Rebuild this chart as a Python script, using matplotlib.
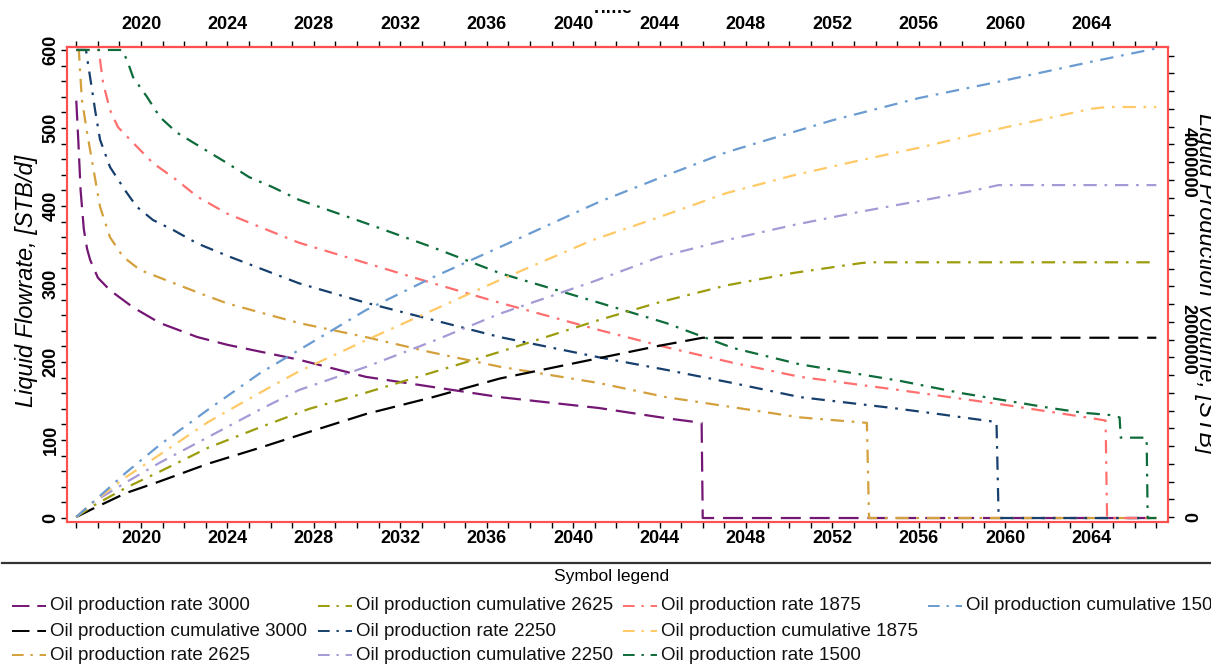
import matplotlib
matplotlib.use("Agg")
import matplotlib.pyplot as plt
from matplotlib.ticker import MultipleLocator, FuncFormatter
from matplotlib.lines import Line2D
from matplotlib.transforms import Bbox

# ---------------- data ----------------
# Oil production rate, STB/d (left axis)
rate_3000_t = [2017.0, 2017.1, 2017.2, 2017.35, 2017.5, 2017.64, 2018.0, 2018.56, 2019.63, 2020.87,
               2022.6, 2024.0, 2027.3, 2030.4, 2033.5, 2036.6, 2041.2, 2044.3, 2045.95, 2046.0, 2067.0]
rate_3000 = [535, 480, 420, 370, 345, 331, 308, 292, 270, 250,
             232, 222, 203, 181, 168, 155, 141, 128, 122, 0, 0]

rate_2625_t = [2017.0, 2017.12, 2017.17, 2017.26, 2017.5, 2017.96, 2018.1, 2018.56, 2019.16, 2019.95,
               2020.87, 2022.73, 2024.0, 2027.3, 2030.4, 2033.5, 2036.6, 2041.2, 2044.3, 2047.4,
               2050.5, 2053.6, 2053.7, 2067.0]
rate_2625 = [600, 600, 575, 536, 494, 421, 399, 360, 335, 318,
             308, 288, 275, 250, 232, 212, 194, 173, 155, 142,
             129, 122, 0, 0]

rate_2250_t = [2017.0, 2017.45, 2017.5, 2017.73, 2017.87, 2018.1, 2018.56, 2019.26, 2019.8, 2020.55,
               2021.5, 2022.6, 2024.0, 2027.3, 2030.4, 2033.5, 2036.6, 2041.2, 2044.3, 2047.4,
               2050.5, 2054.8, 2057.0, 2059.6, 2059.7, 2067.0]
rate_2250 = [600, 600, 590, 549, 523, 485, 450, 420, 399, 382,
             369, 352, 336, 301, 276, 254, 232, 206, 190, 173,
             155, 141, 133, 123, 0, 0]

rate_1875_t = [2017.0, 2018.05, 2018.1, 2018.24, 2018.56, 2018.93, 2019.63, 2020.55, 2021.66, 2022.6,
               2024.0, 2027.3, 2030.4, 2033.5, 2036.6, 2041.2, 2044.3, 2047.4, 2050.5, 2055.1,
               2060.0, 2064.0, 2064.65, 2064.72, 2067.0]
rate_1875 = [600, 600, 587, 558, 523, 501, 481, 455, 433, 412,
             390, 353, 327, 301, 276, 241, 219, 199, 181, 164,
             145, 128, 125, 0, 0]

rate_1500_t = [2017.0, 2019.12, 2019.35, 2019.63, 2020.27, 2020.87, 2021.66, 2022.73, 2023.98, 2025.0,
               2026.1, 2027.3, 2030.4, 2033.5, 2036.6, 2041.2, 2044.3, 2047.4, 2050.5, 2055.1,
               2058.0, 2062.1, 2063.6, 2064.86, 2065.3, 2065.35, 2066.55, 2066.6, 2067.0]
rate_1500 = [600, 600, 587, 565, 540, 514, 494, 476, 455, 437,
             424, 408, 378, 347, 314, 276, 250, 218, 197, 176,
             160, 141, 135, 132, 129, 103, 103, 0, 0]

# Oil production cumulative, million STB (right axis)
cum_3000_t = [2017.0, 2017.74, 2019.3, 2020.85, 2023.1, 2025.5, 2027.8, 2030.4, 2033.5, 2036.6,
              2041.2, 2044.0, 2046.0, 2067.0]
cum_3000 = [0, 0.09, 0.27, 0.40, 0.60, 0.78, 0.96, 1.16, 1.35, 1.56,
            1.79, 1.93, 2.02, 2.02]

cum_2625_t = [2017.0, 2017.74, 2019.3, 2020.85, 2023.1, 2025.5, 2027.8, 2030.4, 2033.5, 2036.6,
              2041.2, 2044.0, 2047.1, 2050.2, 2053.3, 2053.7, 2067.0]
cum_2625 = [0, 0.12, 0.33, 0.51, 0.78, 1.01, 1.22, 1.40, 1.63, 1.86,
            2.22, 2.42, 2.61, 2.75, 2.86, 2.87, 2.87]

cum_2250_t = [2017.0, 2017.74, 2019.3, 2020.85, 2023.1, 2025.5, 2027.3, 2030.4, 2033.5, 2036.6,
              2040.9, 2044.0, 2047.1, 2050.2, 2053.3, 2056.0, 2058.0, 2059.7, 2067.0]
cum_2250 = [0, 0.16, 0.39, 0.61, 0.90, 1.21, 1.43, 1.69, 1.98, 2.29,
            2.65, 2.93, 3.12, 3.29, 3.44, 3.56, 3.65, 3.74, 3.74]

cum_1875_t = [2017.0, 2017.74, 2019.3, 2020.85, 2023.1, 2025.5, 2027.3, 2030.4, 2033.5, 2036.6,
              2040.9, 2044.0, 2047.1, 2050.2, 2053.3, 2056.0, 2060.0, 2064.0, 2064.7, 2067.0]
cum_1875 = [0, 0.16, 0.45, 0.70, 1.07, 1.40, 1.64, 1.99, 2.33, 2.67,
            3.12, 3.38, 3.65, 3.85, 4.02, 4.16, 4.39, 4.60, 4.62, 4.62]

cum_1500_t = [2017.0, 2017.74, 2019.3, 2020.85, 2023.1, 2025.5, 2027.3, 2030.4, 2033.5, 2036.6,
              2041.2, 2044.0, 2047.1, 2052.0, 2056.0, 2060.0, 2064.0, 2066.0, 2067.0]
cum_1500 = [0, 0.16, 0.50, 0.81, 1.21, 1.62, 1.88, 2.33, 2.70, 3.04,
            3.55, 3.82, 4.11, 4.47, 4.72, 4.92, 5.13, 5.23, 5.28]

# ---------------- styling ----------------
DASH = (0, (9, 4))
DASHDOT = (0, (6, 3.5, 1.2, 3.5))
FRAME_RED = '#ff5050'

series = [
    # label, kind, times, values, color, linestyle
    ("Oil production rate 3000", "rate", rate_3000_t, rate_3000, '#741674', DASH),
    ("Oil production cumulative 3000", "cum", cum_3000_t, cum_3000, '#000000', DASH),
    ("Oil production rate 2625", "rate", rate_2625_t, rate_2625, '#d4a03c', DASHDOT),
    ("Oil production cumulative 2625", "cum", cum_2625_t, cum_2625, '#9c9c0c', DASHDOT),
    ("Oil production rate 2250", "rate", rate_2250_t, rate_2250, '#173f6e', DASHDOT),
    ("Oil production cumulative 2250", "cum", cum_2250_t, cum_2250, '#a69ad6', DASHDOT),
    ("Oil production rate 1875", "rate", rate_1875_t, rate_1875, '#ff6f6f', DASHDOT),
    ("Oil production cumulative 1875", "cum", cum_1875_t, cum_1875, '#ffc966', DASHDOT),
    ("Oil production rate 1500", "rate", rate_1500_t, rate_1500, '#0e6b3a', DASHDOT),
    ("Oil production cumulative 1500", "cum", cum_1500_t, cum_1500, '#6a9bd1', DASHDOT),
]

NARROW = ['Liberation Sans Narrow', 'Liberation Sans', 'DejaVu Sans']
SANS = ['Liberation Sans', 'DejaVu Sans']

plt.rcParams.update({
    'font.family': NARROW,
    'font.weight': 'bold',
    'font.size': 13,
})

W, H, DPI = 1211, 666, 100
fig = plt.figure(figsize=(W / DPI, H / DPI), dpi=DPI)
fig.patch.set_facecolor('white')


def fx(px):
    return px / W


def fy(py):
    return 1 - py / H


ax = fig.add_axes([fx(67), fy(522), fx(1168) - fx(67), fy(47) - fy(522)])
ax2 = ax.twinx()

for label, kind, t, v, color, ls in series:
    if kind == "rate":
        ax.plot(t, v, color=color, lw=1.6, linestyle=ls)
    else:
        ax2.plot(t, [x * 1e6 for x in v], color=color, lw=1.6, linestyle=ls)

ax.set_xlim(2016.57, 2067.54)
ax.set_ylim(-5.1, 603.8)
ax2.set_ylim(-0.0563e6, 5.296e6)

# frame
for a in (ax, ax2):
    for s in a.spines.values():
        s.set_color(FRAME_RED)
        s.set_linewidth(1.5)

# x ticks (bottom and top)
year_fmt = FuncFormatter(lambda v, p: f"{int(round(v))}")
ax.xaxis.set_major_locator(MultipleLocator(4))
ax.xaxis.set_minor_locator(MultipleLocator(1))
ax.xaxis.set_major_formatter(year_fmt)
ax.tick_params(axis='x', which='both', direction='out', length=4.3, width=1, pad=1.5)

top = ax.secondary_xaxis('top')
top.xaxis.set_major_locator(MultipleLocator(4))
top.xaxis.set_minor_locator(MultipleLocator(1))
top.xaxis.set_major_formatter(year_fmt)
top.tick_params(axis='x', which='both', direction='out', length=4.3, width=1, pad=6)
top.spines['top'].set_color(FRAME_RED)
top.spines['top'].set_linewidth(1.5)

# left y ticks
ax.yaxis.set_major_locator(MultipleLocator(100))
ax.yaxis.set_minor_locator(MultipleLocator(20))
ax.yaxis.set_major_formatter(FuncFormatter(lambda v, p: f"{int(round(v))}"))
ax.tick_params(axis='y', which='both', direction='out', length=4.3, width=1, pad=1)
for lbl in ax.get_yticklabels():
    lbl.set_rotation(90)
    lbl.set_va('center')
    lbl.set_ha('right')

# right y ticks
ax2.yaxis.set_major_locator(MultipleLocator(2e6))
ax2.yaxis.set_minor_locator(MultipleLocator(2e5))
ax2.yaxis.set_major_formatter(FuncFormatter(lambda v, p: f"{int(round(v))}"))
ax2.tick_params(axis='y', which='both', direction='out', length=4.3, width=1, pad=4)
for lbl in ax2.get_yticklabels():
    lbl.set_rotation(270)
    lbl.set_va('center')
    lbl.set_ha('left')

# axis titles
fig.text(fx(27), fy(281), "Liquid Flowrate, [STB/d]", rotation=90, ha='center', va='center',
         fontsize=17, style='italic', weight='normal', family=SANS)
fig.text(fx(1206), fy(283), "Liquid Production Volume, [STB]", rotation=270, ha='center',
         va='center', fontsize=17, style='italic', weight='normal', family=SANS)

# top title, mostly cut off above the plot
ttl = fig.text(fx(612), fy(13), "Time", ha='center', va='baseline', fontsize=13,
               weight='bold', family=SANS)
ttl.set_clip_box(Bbox.from_extents(0, H - 13, W, H - 9.5))
ttl.set_clip_on(True)

# ---------------- symbol legend ----------------
fig.add_artist(Line2D([fx(2), fx(W)], [fy(563), fy(563)], transform=fig.transFigure,
                      color='#333333', lw=1.6))
fig.text(fx(612), fy(577), "Symbol legend", ha='center', va='center', fontsize=12.5,
         weight='normal', family=SANS)

col_x = [12, 318, 623, 928]
row_y = [606, 631, 655]
for i, (label, kind, t, v, color, ls) in enumerate(series):
    c, r = divmod(i, 3)
    x0, y0 = col_x[c], row_y[r]
    fig.add_artist(Line2D([fx(x0), fx(x0 + 34)], [fy(y0), fy(y0)], transform=fig.transFigure,
                          color=color, lw=1.4, linestyle=ls))
    fig.text(fx(x0 + 38), fy(y0), label, ha='left', va='center', fontsize=13.5,
             weight='normal', family=SANS, color='#111111')

fig.savefig("out.png", dpi=DPI, facecolor='white')
